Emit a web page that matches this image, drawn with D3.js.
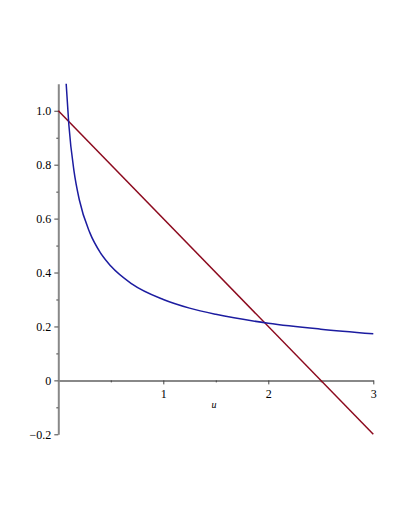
<!DOCTYPE html>
<html>
<head>
<meta charset="utf-8">
<script src="https://cdn.jsdelivr.net/npm/d3@7"></script>
<style>
  body { margin: 0; background: #fff; }
  svg text { font-family: "Liberation Serif", "Times New Roman", "DejaVu Serif", serif !important; }
</style>
</head>
<body>
<div id="chart"></div>
<script>
// values
let lineU = [0, 3];
let lineY = [1.0, -0.2];
let curveU = [0.075, 0.1, 0.15, 0.2, 0.3, 0.4, 0.5, 0.7, 1.0, 1.25, 1.5, 2.0, 2.5, 3.0];
let curveY = [1.1, 0.95, 0.775, 0.67, 0.548, 0.474, 0.424, 0.358, 0.30, 0.268, 0.245, 0.212, 0.19, 0.173];
let xTicks = [1, 2, 3];
let yTicks = [-0.2, 0, 0.2, 0.4, 0.6, 0.8, 1.0];

let width = 405, height = 524;

let xScale = d3.scaleLinear().domain([0, 3]).range([58.3, 373.3]);
let yScale = d3.scaleLinear().domain([-0.2, 1.1]).range([434.3, 83.8]);

let svg = d3.select("#chart").append("svg")
  .attr("width", width)
  .attr("height", height);

// x axis at y = 0
let xAxis = d3.axisBottom(xScale).tickValues(xTicks).tickSize(4).tickSizeOuter(0).tickFormat(d3.format("d"));
let gx = svg.append("g").attr("transform", `translate(0, ${yScale(0)})`).call(xAxis);
gx.selectAll(".tick text").attr("dy", "0.9em");
let gxMinor = svg.append("g").attr("transform", `translate(0, ${yScale(0)})`)
  .call(d3.axisBottom(xScale).tickValues([0.5, 1.5, 2.5]).tickSize(2).tickSizeOuter(0).tickFormat(""));
gxMinor.select(".domain").remove();

// y axis at u = 0
let yAxis = d3.axisLeft(yScale).tickValues(yTicks).tickSize(4).tickSizeOuter(0)
  .tickFormat((d) => d == 0 ? "0" : d < 0 ? "\u2212" + Math.abs(d).toFixed(1) : d.toFixed(1));
let gy = svg.append("g").attr("transform", `translate(${xScale(0)}, 0)`).call(yAxis);
let gyMinor = svg.append("g").attr("transform", `translate(${xScale(0)}, 0)`)
  .call(d3.axisLeft(yScale).tickValues([-0.1, 0.1, 0.3, 0.5, 0.7, 0.9]).tickSize(2).tickSizeOuter(0).tickFormat(""));
gyMinor.select(".domain").remove();

svg.selectAll("g").attr("font-size", 12);
svg.selectAll(".tick text").attr("fill", "#000");
svg.selectAll(".domain").attr("stroke", "#888").attr("stroke-width", 2);
svg.selectAll(".tick line").attr("stroke", "#444");

// axis name
svg.append("text")
  .attr("x", 214)
  .attr("y", 408)
  .attr("text-anchor", "middle")
  .attr("font-style", "italic")
  .attr("font-size", 10)
  .text("u");

// red line
let redData = lineU.map((u, i) => [u, lineY[i]]);
svg.append("path")
  .datum(redData)
  .attr("fill", "none")
  .attr("stroke", "#8c0a1e")
  .attr("stroke-width", 1.5)
  .attr("d", d3.line().x((d) => xScale(d[0])).y((d) => yScale(d[1])));

// blue curve
let blueData = curveU.map((u, i) => [u, curveY[i]]);
svg.append("path")
  .datum(blueData)
  .attr("fill", "none")
  .attr("stroke", "#1c1ca0")
  .attr("stroke-width", 1.5)
  .attr("d", d3.line().curve(d3.curveMonotoneX).x((d) => xScale(d[0])).y((d) => yScale(d[1])));
</script>
</body>
</html>
